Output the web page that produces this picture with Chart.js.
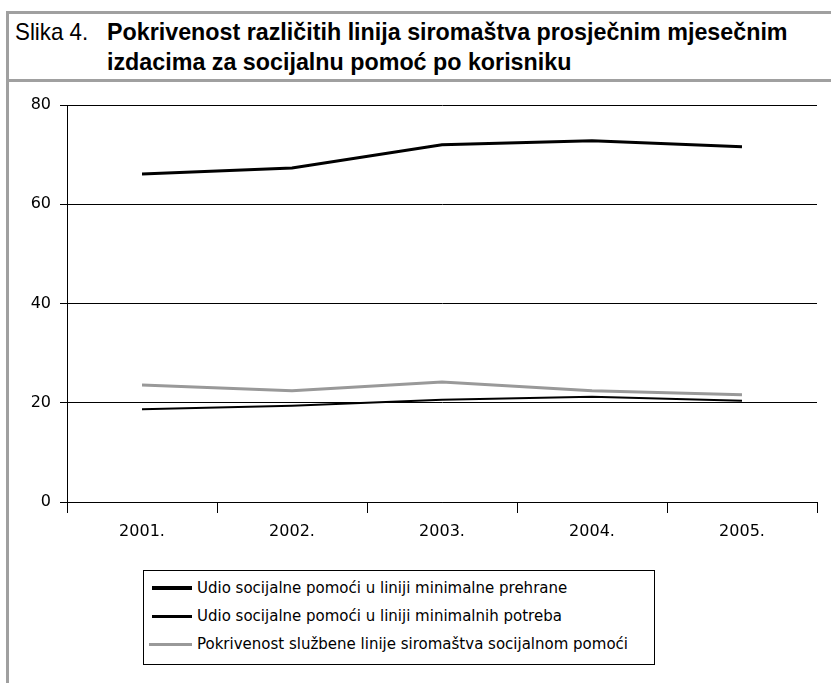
<!DOCTYPE html>
<html>
<head>
<meta charset="utf-8">
<script src="https://cdn.jsdelivr.net/npm/chart.js@4/dist/chart.umd.min.js"></script>
<style>
  body { margin: 0; width: 831px; height: 683px; background: #fff; position: relative; overflow: hidden; font-family: "DejaVu Sans", sans-serif; }
  #frameLeft { position: absolute; left: 6px; top: 11px; width: 3px; height: 672px; background: #a0a0a0; }
  #frameTop { position: absolute; left: 6px; top: 11px; width: 825px; height: 3px; background: #a0a0a0; }
  #frameSep { position: absolute; left: 6px; top: 79px; width: 825px; height: 3px; background: #a0a0a0; }
  #title { position: absolute; left: 15px; top: 17px; font-family: "Liberation Sans", sans-serif; font-size: 24px; line-height: 30px; color: #000; }
  #title .lbl { position: absolute; left: 0; top: 0; white-space: nowrap; transform: scaleX(0.93); transform-origin: left; }
  #title .txt { position: absolute; left: 92px; top: 0; font-weight: bold; white-space: nowrap; transform: scaleX(0.97); transform-origin: left; }
  #wrap { position: absolute; left: 0; top: 85px; width: 831px; height: 470px; }
  #legend { position: absolute; left: 143px; top: 570px; width: 510px; height: 93px; border: 1px solid #000; font-size: 15px; }
  .row { position: absolute; left: 0; height: 20px; display: flex; align-items: center; white-space: nowrap; }
  .swatch { margin-left: 8px; width: 40px; margin-right: 5px; }
</style>
</head>
<body>
<div id="frameLeft"></div>
<div id="frameTop"></div>
<div id="frameSep"></div>
<div id="title">
  <div class="lbl">Slika 4.</div>
  <div class="txt">Pokrivenost različitih linija siromaštva prosječnim mjesečnim<br>izdacima za socijalnu pomoć po korisniku</div>
</div>
<div id="wrap"><canvas id="chart"></canvas></div>
<div id="legend"></div>
<script>
var years = ['2001.', '2002.', '2003.', '2004.', '2005.'];
var prehrana = [66.1, 67.3, 72.0, 72.8, 71.6];
var potrebe = [18.7, 19.4, 20.6, 21.2, 20.4];
var sluzbena = [23.6, 22.4, 24.2, 22.4, 21.6];
var seriesNames = [
  'Udio socijalne pomoći u liniji minimalne prehrane',
  'Udio socijalne pomoći u liniji minimalnih potreba',
  'Pokrivenost službene linije siromaštva socijalnom pomoći'
];
var yTicks = [0, 20, 40, 60, 80];

var ctx = document.getElementById('chart');

var chart = new Chart(ctx, {
  type: 'line',
  data: {
    labels: years,
    datasets: [
      { label: seriesNames[0], data: prehrana, borderColor: '#000', borderWidth: 3 },
      { label: seriesNames[1], data: potrebe, borderColor: '#000', borderWidth: 2 },
      { label: seriesNames[2], data: sluzbena, borderColor: '#999', borderWidth: 3 }
    ]
  },
  options: {
    responsive: true,
    maintainAspectRatio: false,
    animation: false,
    elements: {
      point: { radius: 0 },
      line: { tension: 0, fill: false }
    },
    layout: { padding: { top: 20, right: 14, bottom: 0, left: 0 } },
    plugins: {
      legend: { display: false },
      tooltip: { enabled: false }
    },
    scales: {
      x: {
        offset: true,
        grid: {
          offset: true,
          tickLength: 11,
          tickColor: '#000',
          color: function(c) { return c.index === years.length ? '#888' : 'rgba(0,0,0,0)'; },
          lineWidth: 1
        },
        border: { color: '#000', width: 1 },
        ticks: { color: '#000', font: { size: 16, family: 'DejaVu Sans' }, padding: 9, maxRotation: 0 },
        afterFit: function(s) { s.height = 53; }
      },
      y: {
        min: 0,
        max: 80,
        afterBuildTicks: function(s) { s.ticks = yTicks.map(function(v) { return { value: v }; }); },
        grid: { color: '#000', tickLength: 7, tickColor: '#000', lineWidth: 1 },
        border: { color: '#000', width: 1 },
        ticks: { color: '#000', font: { size: 16, family: 'DejaVu Sans' }, padding: 9 },
        afterFit: function(s) { s.width = 67; }
      }
    }
  }
});

// legend built from the datasets
var legend = document.getElementById('legend');
var rowTops = [7, 35, 63];
chart.data.datasets.forEach(function(ds, i) {
  var row = document.createElement('div');
  row.className = 'row';
  row.style.top = rowTops[i] + 'px';
  var sw = document.createElement('div');
  sw.className = 'swatch';
  sw.style.height = (i === 0 ? 4 : 3) + 'px';
  sw.style.background = ds.borderColor;
  if (i === 2) { sw.style.marginLeft = '5px'; sw.style.width = '43px'; }
  var t = document.createElement('span');
  t.textContent = ds.label;
  row.appendChild(sw);
  row.appendChild(t);
  legend.appendChild(row);
});
</script>
</body>
</html>
